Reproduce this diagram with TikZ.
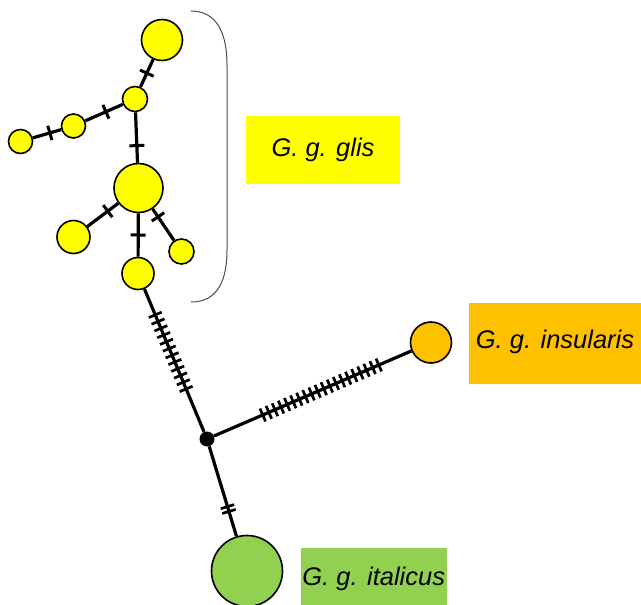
\documentclass[tikz,border=0pt]{standalone}
\usepackage{fontspec}
\setmainfont{Liberation Sans}
\usetikzlibrary{decorations.markings}
\definecolor{glisyellow}{HTML}{FFFF00}
\definecolor{insorange}{HTML}{FFC000}
\definecolor{italgreen}{HTML}{92D050}
\tikzset{
  hap/.style={circle,draw,line width=1.6pt,inner sep=0pt},
  edge/.style={line width=3.2pt},
  tick/.style={postaction={decorate},decoration={markings,
    mark=at position #1 with {\draw[line width=3pt] (0,-7.5pt) -- (0,7.5pt);}}},
  ticks/.style n args={3}{postaction={decorate},decoration={markings,
    mark=between positions #1 and #2 step #3 with {\draw[line width=2.7pt] (0,-7pt) -- (0,7pt);}}},
  taxon/.style={inner sep=0pt,font=\itshape\fontsize{25.5}{30}\selectfont}
}
\begin{document}
\begin{tikzpicture}[x=1pt,y=-1pt]
    \useasboundingbox (0,0) rectangle (641,605);
    % haplotypes
    \foreach \n/\x/\y/\d/\c in {
      hA/162/40/41/glisyellow, hB/135/99/25/glisyellow,
      hC/73.5/126/24/glisyellow, hD/20.5/141.5/24/glisyellow,
      hE/138.5/188/49/glisyellow, hF/73.5/237/33/glisyellow,
      hG/181.5/251.5/25/glisyellow, hH/138/273.5/32/glisyellow,
      hI/431/342.5/41/insorange, hJ/247/571/71/italgreen}
      \node[hap,fill=\c,minimum size=\d] (\n) at (\x,\y) {};
    \node[circle,fill=black,inner sep=0pt,minimum size=15] (mv) at (207,439) {};
    % one mutation steps
    \foreach \a/\b/\p in {
      hA/hB/0.5, hB/hC/0.45, hC/hD/0.4, hB/hE/0.66,
      hE/hF/0.34, hE/hH/0.5, hE/hG/0.25}
      \draw[edge,tick=\p] (\a) -- (\b);
    \draw[edge,ticks={28pt}{109pt}{7.3pt}] (hH) -- (mv);
    \draw[edge,ticks={53pt}{180pt}{6.65pt}] (mv) -- (hI);
    \draw[edge,ticks={63pt}{68.5pt}{5pt}] (mv) -- (hJ);
    % bracket
    \draw[line width=1pt,black!70] (191,11) .. controls (218,11) and (227,35) .. (227,65)
      -- (227,250) .. controls (227,280) and (218,302) .. (191,302);
    % labels
    \node[taxon,fill=glisyellow,minimum width=154,minimum height=68] (glis) at (323,150) {G. g. glis};
    \node[taxon,fill=insorange,minimum width=172,minimum height=81,text depth=8] (insularis) at (555,343) {G. g. insularis};
    \node[taxon,fill=italgreen,minimum width=146,minimum height=62] (italicus) at (373.7,578.5) {G. g. italicus};
  \end{tikzpicture}
\end{document}
